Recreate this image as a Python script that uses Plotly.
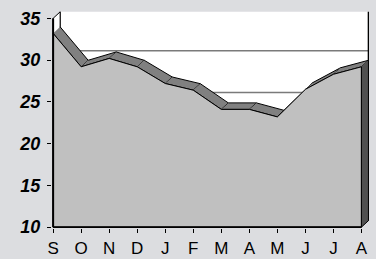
import plotly.graph_objects as go

# ---- data ----
months = ["S", "O", "N", "D", "J", "F", "M", "A", "M", "J", "J", "A"]
values = [33.2, 29.2, 30.2, 29.2, 27.2, 26.4, 24.1, 24.1, 23.2, 26.5, 28.3, 29.2]
y_ticks = [10, 15, 20, 25, 30, 35]
grid_values = [15, 20, 25, 30]

# ---- 3D look (offsets in axis units) ----
Y_MIN, Y_MAX = 10, 35
DX = 0.25
DY = 0.78
GDY = 1.12

BG = "#dcdde0"
FRONT = "#c0c0c0"
TOP = "#808080"
SIDE = "#505050"
FONT = "Liberation Sans, Arial, sans-serif"

n = len(months)
xs = list(range(n))
last = n - 1

fig = go.Figure()


def poly(x, y, fill, line_color="black", width=1.0):
    fig.add_trace(go.Scatter(
        x=x, y=y, mode="lines", fill="toself", fillcolor=fill,
        line=dict(color=line_color, width=width),
        hoverinfo="skip", showlegend=False))


def seg(x, y, color, width):
    fig.add_trace(go.Scatter(
        x=x, y=y, mode="lines", line=dict(color=color, width=width),
        hoverinfo="skip", showlegend=False))


# back wall
poly([DX, last + DX, last + DX, DX],
     [Y_MIN + DY, Y_MIN + DY, Y_MAX + DY, Y_MAX + DY], "white", "white", 0)
for g in grid_values:
    seg([DX, last + DX], [g + GDY, g + GDY], "#7a7a7a", 1.5)
seg([DX, DX], [Y_MIN + DY, Y_MAX + DY], "black", 1)
seg([last + DX, last + DX], [Y_MIN + DY, Y_MAX + DY], "black", 1.5)

# left side wall
poly([0, 0, DX, DX], [Y_MIN, Y_MAX, Y_MAX + DY, Y_MIN + DY], "white", "black", 1)

# top bands of the area
for i in range(last):
    poly([i, i + 1, i + 1 + DX, i + DX],
         [values[i], values[i + 1], values[i + 1] + DY, values[i] + DY],
         TOP, "black", 1)

# front face
poly(xs + [last, 0], values + [Y_MIN, Y_MIN], FRONT, "black", 1)

# right side face
poly([last, last, last + DX, last + DX],
     [values[-1], Y_MIN, Y_MIN + DY, values[-1] + DY], SIDE, "black", 1)

# axis lines
seg([0, 0], [Y_MIN, Y_MAX], "black", 2)
seg([0, last], [Y_MIN, Y_MIN], "black", 2)

fig.update_layout(
    width=376, height=259,
    margin=dict(l=52, r=7, t=10, b=31),
    paper_bgcolor=BG, plot_bgcolor=BG,
    xaxis=dict(range=[-0.04, last + DX + 0.02], tickmode="array",
               tickvals=xs, ticktext=months, ticks="outside", ticklen=4,
               tickcolor="black", tickwidth=1, showgrid=False, zeroline=False,
               showline=False, fixedrange=True, automargin=False,
               ticklabelstandoff=1,
               tickfont=dict(family=FONT, size=17, color="black")),
    yaxis=dict(range=[9.9, 36.0], tickmode="array", tickvals=y_ticks,
               ticktext=["<b><i>%d</i></b>" % v for v in y_ticks],
               ticks="outside", ticklen=4, tickcolor="black", tickwidth=1,
               showgrid=False, zeroline=False, showline=False, fixedrange=True,
               automargin=False, ticklabelstandoff=3,
               tickfont=dict(family=FONT, size=18, color="black",
                             weight="bold", style="italic")),
)

fig.write_html(
    "out.html",
    config={"displayModeBar": False},
    post_script="document.body.style.margin='0';document.body.style.padding='0';",
)
